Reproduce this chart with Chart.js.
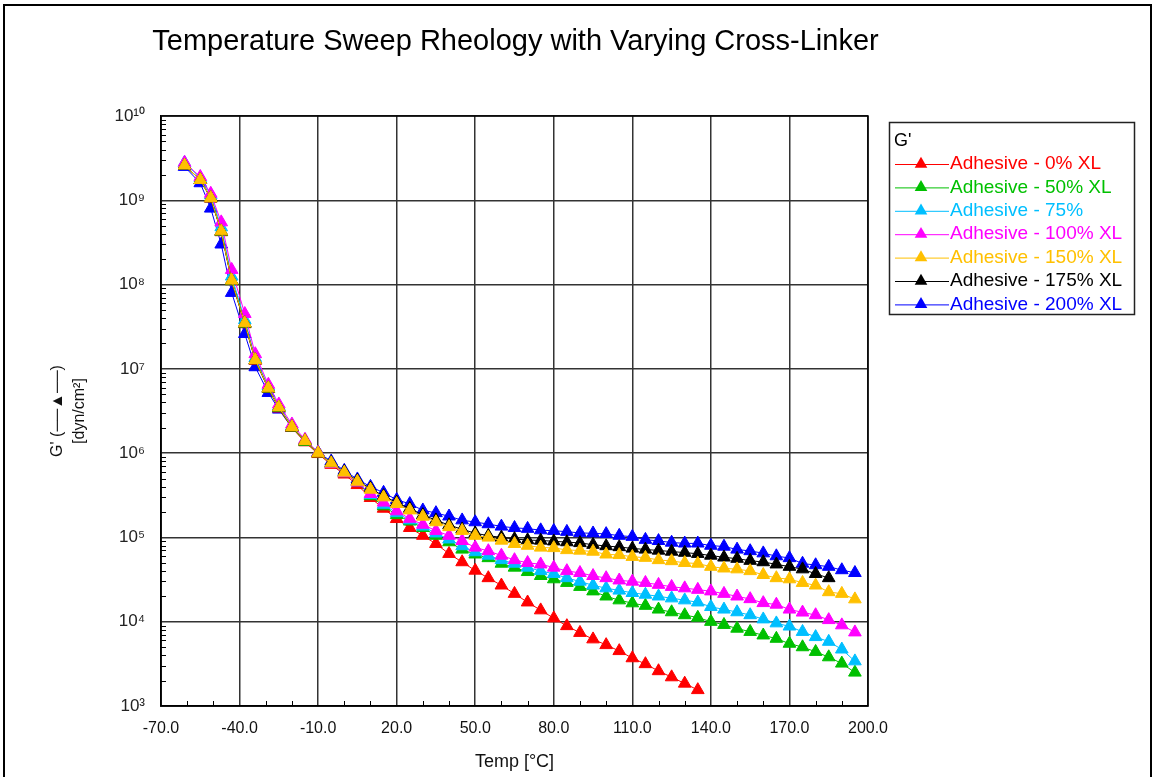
<!DOCTYPE html>
<html>
<head>
<meta charset="utf-8">
<script src="https://cdn.jsdelivr.net/npm/chart.js@4.4.1/dist/chart.umd.min.js"></script>
<style>
html,body{margin:0;padding:0;background:#fff;overflow:hidden}
canvas{display:block}
</style>
</head>
<body>
<canvas id="c" width="1156" height="777"></canvas>
<script>
// ---------------- DATA ----------------
const chartTitle = "Temperature Sweep Rheology with Varying Cross-Linker";
const xTitle = "Temp [°C]";
const yTitle = ["G' (──▲──)", "[dyn/cm²]"];
const legendTitle = "G'";

const temps = [-61,-55,-51,-47,-43,-38,-34,-29,-25,-20,-15,-10,-5,0,5,10,15,20,25,30,35,40,45,50,55,60,65,70,75,80,85,90,95,100,105,110,115,120,125,130,135,140,145,150,155,160,165,170,175,180,185,190,195];

const xTickValues = [-70,-40,-10,20,50,80,110,140,170,200];
const xTickLabels = ["-70.0","-40.0","-10.0","20.0","50.0","80.0","110.0","140.0","170.0","200.0"];
const yTickValues = [1e3,1e4,1e5,1e6,1e7,1e8,1e9,1e10];
const yTickLabels = ["10³","10⁴","10⁵","10⁶","10⁷","10⁸","10⁹","10¹⁰"];

const seriesNames = ["Adhesive - 0% XL","Adhesive - 50% XL","Adhesive - 75%","Adhesive - 100% XL","Adhesive - 150% XL","Adhesive - 175% XL","Adhesive - 200% XL"];
const seriesColors = ["#ff0000","#00c000","#00bfff","#ff00ff","#ffc000","#000000","#0000ff"];

const xl0 = [2.6e9,1.75e9,1.05e9,4.2e8,1.1e8,3.4e7,1.25e7,5.8e6,3.4e6,2.0e6,1.35e6,9.8e5,7.3e5,5.6e5,4.2e5,2.95e5,2.2e5,1.66e5,1.3e5,1.05e5,8.4e4,6.4e4,5.1e4,4.05e4,3.3e4,2.7e4,2.15e4,1.7e4,1.37e4,1.1e4,8.9e3,7.4e3,6.2e3,5.3e3,4.5e3,3.7e3,3.15e3,2.6e3,2.2e3,1.85e3,1.55e3,null,null,null,null,null,null,null,null,null,null,null,null];
const xl50 = [2.6e9,1.75e9,1.06e9,4.25e8,1.1e8,3.45e7,1.27e7,5.85e6,3.45e6,2.02e6,1.37e6,1.0e6,7.5e5,5.8e5,4.5e5,3.1e5,2.35e5,1.85e5,1.55e5,1.3e5,1.05e5,8.8e4,7.2e4,6.3e4,5.7e4,4.9e4,4.4e4,3.9e4,3.5e4,3.2e4,2.9e4,2.6e4,2.3e4,2.0e4,1.8e4,1.66e4,1.55e4,1.4e4,1.3e4,1.2e4,1.12e4,1.0e4,9.2e3,8.3e3,7.6e3,6.9e3,6.3e3,5.5e3,5.0e3,4.4e3,3.8e3,3.2e3,2.5e3];
const xl75 = [2.8e9,1.85e9,1.15e9,4.8e8,1.25e8,3.8e7,1.35e7,6.2e6,3.6e6,2.1e6,1.4e6,1.02e6,7.6e5,5.9e5,4.6e5,3.2e5,2.45e5,1.95e5,1.6e5,1.35e5,1.12e5,9.5e4,7.9e4,6.7e4,6.1e4,5.4e4,4.9e4,4.4e4,4.0e4,3.7e4,3.3e4,3.0e4,2.7e4,2.5e4,2.35e4,2.2e4,2.1e4,2.0e4,1.9e4,1.8e4,1.7e4,1.5e4,1.4e4,1.3e4,1.2e4,1.07e4,9.6e3,8.8e3,7.6e3,6.6e3,5.8e3,4.7e3,3.4e3];
const xl100 = [2.8e9,1.9e9,1.2e9,5.5e8,1.5e8,4.5e7,1.5e7,6.5e6,3.8e6,2.2e6,1.45e6,1.02e6,7.5e5,5.8e5,4.5e5,3.3e5,2.6e5,2.05e5,1.67e5,1.42e5,1.2e5,1.05e5,9.1e4,7.6e4,6.9e4,6.1e4,5.4e4,5.0e4,4.8e4,4.4e4,4.0e4,3.8e4,3.5e4,3.3e4,3.1e4,3.0e4,2.9e4,2.75e4,2.6e4,2.5e4,2.4e4,2.3e4,2.15e4,2.0e4,1.86e4,1.67e4,1.6e4,1.4e4,1.29e4,1.2e4,1.05e4,9.1e3,7.5e3];
const xl150 = [2.6e9,1.75e9,1.07e9,4.3e8,1.12e8,3.5e7,1.28e7,5.9e6,3.5e6,2.05e6,1.4e6,1.0e6,7.6e5,5.9e5,4.6e5,3.7e5,3.0e5,2.5e5,2.1e5,1.77e5,1.52e5,1.33e5,1.2e5,1.05e5,1.0e5,9.2e4,8.4e4,8.0e4,7.6e4,7.5e4,7.1e4,7.0e4,6.8e4,6.3e4,6.2e4,5.9e4,5.75e4,5.4e4,5.25e4,5.0e4,4.9e4,4.5e4,4.3e4,4.2e4,4.0e4,3.6e4,3.3e4,3.2e4,2.9e4,2.7e4,2.25e4,2.15e4,1.85e4];
const xl175 = [2.6e9,1.75e9,1.07e9,4.3e8,1.12e8,3.5e7,1.28e7,5.9e6,3.5e6,2.05e6,1.4e6,1.0e6,7.7e5,6.0e5,4.7e5,3.8e5,3.1e5,2.6e5,2.2e5,1.85e5,1.6e5,1.4e5,1.25e5,1.12e5,1.05e5,1.0e5,9.6e4,9.3e4,9.2e4,9.0e4,8.8e4,8.6e4,8.2e4,7.9e4,7.7e4,7.4e4,7.2e4,7.0e4,6.8e4,6.6e4,6.4e4,6.1e4,5.8e4,5.6e4,5.3e4,5.1e4,4.8e4,4.5e4,4.2e4,3.7e4,3.3e4,null,null];
const xl200 = [2.5e9,1.6e9,8.0e8,3.0e8,8.0e7,2.6e7,1.05e7,5.2e6,3.3e6,2.0e6,1.4e6,1.02e6,8.0e5,6.2e5,4.9e5,4.0e5,3.4e5,2.8e5,2.5e5,2.1e5,1.95e5,1.78e5,1.6e5,1.52e5,1.44e5,1.35e5,1.3e5,1.27e5,1.22e5,1.2e5,1.17e5,1.13e5,1.12e5,1.1e5,1.05e5,1.02e5,9.4e4,9.1e4,8.7e4,8.5e4,8.5e4,8.0e4,7.8e4,7.2e4,6.9e4,6.5e4,6.0e4,5.7e4,4.9e4,4.7e4,4.5e4,4.1e4,3.8e4];

const seriesValues = [xl0, xl50, xl75, xl100, xl150, xl175, xl200];
const drawOrder = [5, 4, 3, 2, 0, 1, 6];

// ---------------- CHART ----------------
const FONT = "'Liberation Sans', Arial, sans-serif";

function pts(vals){
  const out = [];
  for (let i = 0; i < temps.length; i++) if (vals[i] != null) out.push({x: temps[i], y: vals[i]});
  return out;
}

const datasets = seriesNames.map((name, i) => ({
  label: name,
  data: pts(seriesValues[i]),
  showLine: true,
  borderColor: seriesColors[i],
  backgroundColor: seriesColors[i],
  borderWidth: 1,
  pointStyle: 'triangle',
  pointRadius: 7.3,
  pointBorderWidth: 1,
  pointBackgroundColor: seriesColors[i],
  pointBorderColor: seriesColors[i],
  order: drawOrder[i]
}));

const decor = {
  id: 'decor',
  beforeDraw(chart){
    const ctx = chart.ctx;
    ctx.save();
    ctx.fillStyle = '#fff';
    ctx.fillRect(0, 0, chart.width, chart.height);
    ctx.strokeStyle = '#000';
    ctx.lineWidth = 2;
    ctx.beginPath();
    ctx.moveTo(4, 800); ctx.lineTo(4, 5); ctx.lineTo(1151, 5); ctx.lineTo(1151, 800);
    ctx.stroke();
    ctx.restore();
  },
  afterDraw(chart){
    const ctx = chart.ctx;
    const ca = chart.chartArea;
    const xs = chart.scales.x, ys = chart.scales.y;
    ctx.save();
    // title
    ctx.fillStyle = '#000';
    ctx.font = "29px " + FONT;
    ctx.textAlign = 'center';
    ctx.textBaseline = 'middle';
    ctx.fillText(chartTitle, (ca.left + ca.right) / 2 + 1, 42);
    // minor ticks
    ctx.strokeStyle = '#000';
    ctx.lineWidth = 1;
    ctx.beginPath();
    for (let n = 3; n < 10; n++) {
      for (let k = 2; k <= 9; k++) {
        const y = Math.round(ys.getPixelForValue(k * Math.pow(10, n))) + 0.5;
        ctx.moveTo(ca.left, y); ctx.lineTo(ca.left + 5, y);
      }
    }
    for (let v = -60; v < 200; v += 10) {
      if ((v + 70) % 30 === 0) continue;
      const x = Math.round(xs.getPixelForValue(v)) + 0.5;
      ctx.moveTo(x, ca.bottom); ctx.lineTo(x, ca.bottom - 5);
    }
    ctx.stroke();
    ctx.lineWidth = 1.5;
    ctx.strokeRect(ca.left, ca.top, ca.right - ca.left, ca.bottom - ca.top);

    // legend
    const lx = 889.5, ly = 122.5, lw = 245, lh = 192;
    ctx.lineWidth = 1.5;
    ctx.strokeStyle = '#222';
    ctx.strokeRect(lx, ly, lw, lh);
    ctx.textAlign = 'left';
    ctx.textBaseline = 'middle';
    ctx.fillStyle = '#000';
    ctx.font = "18px " + FONT;
    ctx.fillText(legendTitle, 894, 141);
    ctx.font = "19px " + FONT;
    for (let i = 0; i < seriesNames.length; i++) {
      const cy = 164 + i * 23.4;
      const c = seriesColors[i];
      ctx.strokeStyle = c;
      ctx.lineWidth = 1;
      ctx.beginPath();
      ctx.moveTo(895, cy + 0.5); ctx.lineTo(949, cy + 0.5);
      ctx.stroke();
      const r = 7.3, cx = 921;
      ctx.fillStyle = c;
      ctx.beginPath();
      ctx.moveTo(cx, cy - r);
      ctx.lineTo(cx + r * 0.866, cy + r / 2);
      ctx.lineTo(cx - r * 0.866, cy + r / 2);
      ctx.closePath();
      ctx.fill();
      ctx.fillText(seriesNames[i], 950, cy);
    }
    ctx.restore();
  }
};

new Chart(document.getElementById('c'), {
  type: 'scatter',
  data: { datasets },
  plugins: [decor],
  options: {
    responsive: false,
    devicePixelRatio: 1,
    animation: false,
    layout: { padding: { left: 0, right: 288, top: 116, bottom: 0 } },
    plugins: { legend: { display: false }, title: { display: false }, tooltip: { enabled: false } },
    scales: {
      x: {
        type: 'linear',
        min: -70, max: 200,
        afterFit(s){ s.height = 71; },
        afterBuildTicks(s){ s.ticks = xTickValues.map(v => ({value: v})); },
        ticks: {
          color: '#111',
          font: { size: 16, family: FONT },
          padding: 13,
          maxRotation: 0,
          autoSkip: false,
          callback(v){ const i = xTickValues.indexOf(v); return i >= 0 ? xTickLabels[i] : ''; }
        },
        grid: { color: '#333', lineWidth: 1.5, drawTicks: false },
        border: { display: true, color: '#000', width: 1.5 },
        title: { display: true, text: xTitle, color: '#111', font: { size: 18, family: FONT }, padding: { top: 0, bottom: 4 } }
      },
      y: {
        type: 'logarithmic',
        min: 1e3, max: 1e10,
        afterFit(s){ s.width = 161; },
        afterBuildTicks(s){ s.ticks = yTickValues.map(v => ({value: v})); },
        ticks: {
          color: '#222',
          font: { size: 17, family: FONT },
          padding: 16,
          autoSkip: false,
          callback(v){ const i = yTickValues.indexOf(v); return i >= 0 ? yTickLabels[i] : ''; }
        },
        grid: { color: '#333', lineWidth: 1.5, drawTicks: false },
        border: { display: true, color: '#000', width: 1.5 },
        title: { display: true, text: yTitle, color: '#111', font: { size: 16, family: FONT, lineHeight: 1.4 }, padding: { top: 46, bottom: 0 } }
      }
    }
  }
});
</script>
</body>
</html>
